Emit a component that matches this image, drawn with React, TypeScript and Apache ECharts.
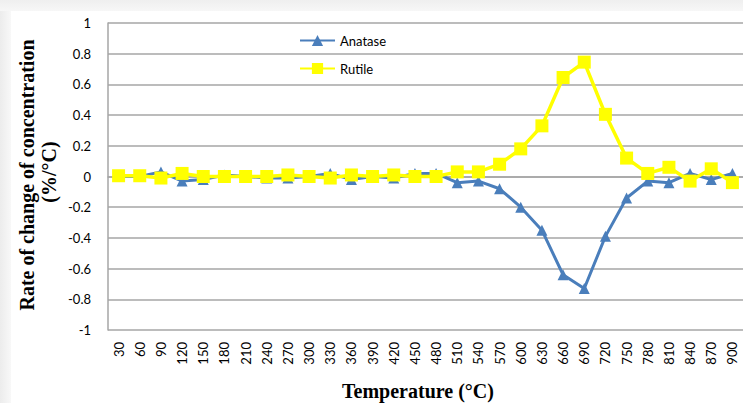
import React, { useEffect, useRef } from "react";
import * as echarts from "echarts";

const categories = ["30","60","90","120","150","180","210","240","270","300","330","360","390","420","450","480","510","540","570","600","630","660","690","720","750","780","810","840","870","900"];
const anatase = [0, 0, 0.03, -0.03, -0.02, 0.01, 0, -0.01, -0.01, 0, 0.02, -0.02, 0, -0.01, 0.02, 0.02, -0.04, -0.03, -0.08, -0.2, -0.35, -0.64, -0.73, -0.39, -0.14, -0.03, -0.04, 0.02, -0.02, 0.02];
const rutile = [0.005, 0.005, -0.01, 0.02, 0, 0, 0, 0, 0.01, 0, -0.01, 0.01, 0, 0.01, 0, 0, 0.03, 0.03, 0.08, 0.18, 0.33, 0.645, 0.745, 0.405, 0.12, 0.02, 0.06, -0.03, 0.05, -0.04];
const seriesNames = ["Anatase", "Rutile"];
const yTitle = "Rate of change of concentration";
const yUnit = "(%/°C)";
const xTitle = "Temperature (°C)";

export default function App() {
  const ref = useRef<HTMLDivElement>(null);
  useEffect(() => {
    if (!ref.current) return;
    const chart = echarts.init(ref.current, null, { renderer: "svg" });
    const gridColor = "#a6a6a6";
    chart.setOption({
      animation: false,
      backgroundColor: "transparent",
      grid: { left: 108, top: 23, bottom: 73, right: -3, containLabel: false },
      legend: {
        orient: "vertical",
        left: 294,
        top: 29,
        itemWidth: 35,
        itemHeight: 14,
        itemGap: 15,
        textStyle: { fontFamily: "Lato", fontSize: 13, color: "#000" },
        data: seriesNames,
      },
      xAxis: {
        type: "category",
        data: categories,
        boundaryGap: true,
        axisLine: { show: true, lineStyle: { color: gridColor, width: 1.5 } },
        axisTick: { show: false },
        axisLabel: { rotate: 90, margin: 12, fontFamily: "Lato", fontSize: 13, color: "#000", interval: 0 },
        splitLine: { show: false },
      },
      yAxis: {
        type: "value",
        min: -1,
        max: 1,
        interval: 0.2,
        axisLine: { show: true, lineStyle: { color: gridColor, width: 1.5 } },
        axisTick: { show: false },
        axisLabel: { margin: 17, fontFamily: "Lato", fontSize: 13, color: "#000",
          formatter: (v: number) => String(Math.round(v * 10) / 10) },
        splitLine: { show: true, lineStyle: { color: gridColor, width: 1.5 } },
      },
      graphic: [
        {
          type: "text",
          x: 27, y: 175, rotation: Math.PI / 2,
          style: { text: yTitle, fontFamily: "Liberation Serif", fontWeight: "bold", fontSize: 20, fill: "#000", align: "center", verticalAlign: "middle" },
        },
        {
          type: "text",
          x: 49, y: 172, rotation: Math.PI / 2,
          style: { text: yUnit, fontFamily: "Liberation Serif", fontWeight: "bold", fontSize: 20, fill: "#000", align: "center", verticalAlign: "middle" },
        },
        {
          type: "text",
          x: 418, y: 391,
          style: { text: xTitle, fontFamily: "Liberation Serif", fontWeight: "bold", fontSize: 20, fill: "#000", align: "center", verticalAlign: "middle" },
        },
      ],
      series: [
        {
          name: seriesNames[0],
          type: "line",
          data: anatase,
          symbol: "triangle",
          symbolSize: 11,
          lineStyle: { color: "#4a7ebb", width: 3 },
          itemStyle: { color: "#4a7ebb" },
        },
        {
          name: seriesNames[1],
          type: "line",
          data: rutile,
          symbol: "rect",
          symbolSize: 13,
          lineStyle: { color: "#ffff00", width: 3.5 },
          itemStyle: { color: "#ffff00" },
        },
      ],
    });
    return () => chart.dispose();
  }, []);
  return (
    <div style={{ position: "fixed", left: 0, top: 0, width: 743, height: 403, overflow: "hidden",
      background: "linear-gradient(90deg, #ececec 0px, #f8f8f8 11px, #fff 12px)" }}>
      <div style={{ position: "absolute", left: 0, top: 0, width: 743, height: 11, background: "linear-gradient(180deg, #efefef, #f7f7f7)" }} />
      <div style={{ position: "absolute", left: 11, top: 11, width: 732, height: 392, background: "#fff" }} />
      <div ref={ref} style={{ position: "absolute", left: 0, top: 0, width: 743, height: 403 }} />
    </div>
  );
}
